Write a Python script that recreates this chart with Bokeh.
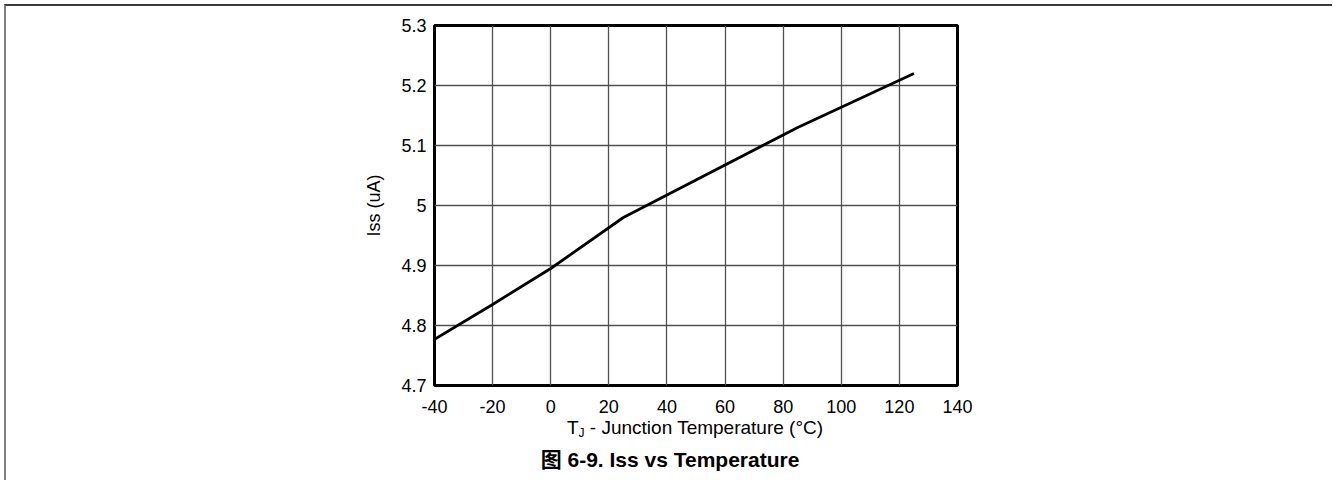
from bokeh.plotting import figure
from bokeh.models import FixedTicker, Div
from bokeh.layouts import column
from bokeh.embed import file_html
from bokeh.resources import INLINE

# Data
temps = [-40, -20, 0, 25, 85, 125]
iss = [4.777, 4.835, 4.895, 4.98, 5.13, 5.22]

x_ticks = [-40, -20, 0, 20, 40, 60, 80, 100, 120, 140]
y_ticks = [4.7, 4.8, 4.9, 5.0, 5.1, 5.2, 5.3]
y_tick_labels = ["4.7", "4.8", "4.9", "5", "5.1", "5.2", "5.3"]

x_label_main = "T"
x_label_sub = "J"
x_label_rest = " - Junction Temperature (°C)"
y_label = "Iss (uA)"
caption = "图 6-9. Iss vs Temperature"

FONT = "'Liberation Sans', Arial, sans-serif"
CAPFONT = "'Liberation Sans', 'Noto Sans CJK SC', sans-serif"

fig = figure(
    frame_width=523, frame_height=360,
    x_range=(-40, 140), y_range=(4.7, 5.3),
    output_backend="svg", toolbar_location=None, tools="",
    min_border_left=428, min_border_right=375,
    min_border_top=19, min_border_bottom=32,
)

fig.outline_line_color = "black"
fig.outline_line_width = 3
fig.outline_line_alpha = 1

for ax in (fig.xaxis[0], fig.yaxis[0]):
    ax.axis_line_color = None
    ax.major_tick_line_color = None
    ax.minor_tick_line_color = None
    ax.major_tick_out = 0
    ax.major_tick_in = 0
    ax.minor_tick_out = 0
    ax.major_label_text_font = FONT
    ax.major_label_text_font_size = "18px"
    ax.major_label_text_color = "#000000"
    ax.axis_label_text_font = FONT
    ax.axis_label_text_font_style = "normal"
    ax.axis_label_text_color = "#000000"

fig.xaxis.ticker = FixedTicker(ticks=x_ticks)
fig.yaxis.ticker = FixedTicker(ticks=y_ticks)
fig.xaxis.major_label_overrides = {t: str(t) for t in x_ticks}
fig.yaxis.major_label_overrides = {t: l for t, l in zip(y_ticks, y_tick_labels)}
fig.xaxis.major_label_standoff = 14
fig.yaxis.major_label_standoff = 8
fig.yaxis.axis_label = y_label
fig.yaxis.axis_label_text_font_size = "18px"
fig.yaxis.axis_label_standoff = 14

fig.xgrid.ticker = FixedTicker(ticks=x_ticks)
fig.ygrid.ticker = FixedTicker(ticks=y_ticks)
for g in (fig.xgrid[0], fig.ygrid[0]):
    g.grid_line_color = "#505050"
    g.grid_line_width = 1.3
    g.grid_line_alpha = 1

fig.line(temps, iss, line_color="black", line_width=2.8)

xlabel_html = (
    f"{x_label_main}<span style='font-size:12px;position:relative;top:3px'>{x_label_sub}</span>"
    f"{x_label_rest}"
)
xlabel_div = Div(
    text=xlabel_html, width=600, height=22, margin=(0, 0, 0, 389),
    styles={"font-family": FONT, "font-size": "19px", "line-height": "22px",
            "text-align": "center", "color": "#000000", "white-space": "nowrap"},
)
caption_div = Div(
    text=caption, width=600, height=32, margin=(9, 0, 0, 364),
    styles={"font-family": CAPFONT, "font-size": "21px", "line-height": "24px",
            "font-weight": "bold", "text-align": "center", "color": "#000000",
            "white-space": "nowrap"},
)

p = column(fig, xlabel_div, caption_div, spacing=0)
p.styles = {"margin-left": "4px", "margin-top": "4px",
            "border-top": "2px solid #3a3a3a", "border-left": "2px solid #808080"}

open("out.html", "w").write(file_html(p, INLINE))
